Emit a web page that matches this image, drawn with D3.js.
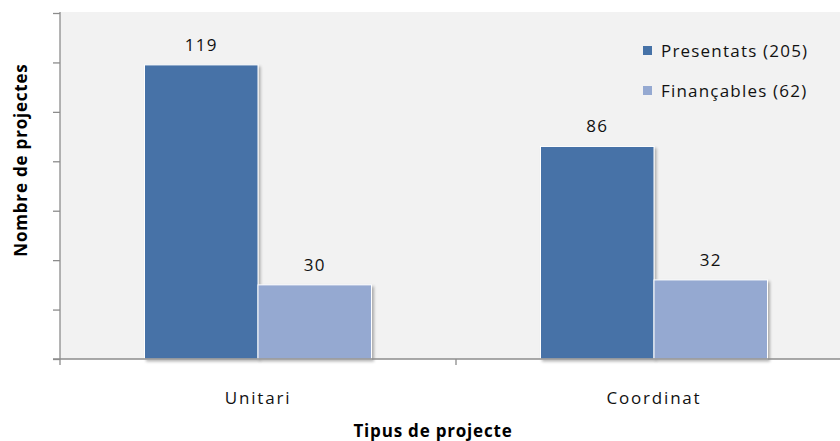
<!DOCTYPE html>
<html><head><meta charset="utf-8">
<script src="https://cdn.jsdelivr.net/npm/d3@7/dist/d3.min.js"></script>
<style>body{margin:0;background:#fff}svg{display:block;font-family:"Open Sans",sans-serif}</style>
</head><body>
<script>
const categories = ["Unitari", "Coordinat"];
const seriesNames = ["Presentats (205)", "Finançables (62)"];
const presentats = [119, 86];
const financables = [30, 32];
const yTicks = [0, 20, 40, 60, 80, 100, 120, 140];
const colors = ["#4672a7", "#95a9d1"];

const W = 840, H = 441;
const svg = d3.select("body").append("svg").attr("width", W).attr("height", H);
const mLeft = 60, mTop = 13, mBottom = 359;

svg.append("rect").attr("x", mLeft).attr("y", 12).attr("width", W - mLeft).attr("height", mBottom - 12).attr("fill", "#f2f2f2");

const x = d3.scaleBand().domain(categories).range([mLeft, 852]);
const sub = d3.scaleBand().domain([0, 1]).range([0, 227]);
const y = d3.scaleLinear().domain([0, 140]).range([mBottom, mTop]);

const defs = svg.append("defs");
const f = defs.append("filter").attr("id", "sh").attr("x", "-10%").attr("y", "-10%").attr("width", "130%").attr("height", "130%");
f.append("feGaussianBlur").attr("in", "SourceAlpha").attr("stdDeviation", 1.5);
f.append("feOffset").attr("dx", 2).attr("dy", 2).attr("result", "ob");
f.append("feComponentTransfer").append("feFuncA").attr("type", "linear").attr("slope", 0.3);
const mg = f.append("feMerge"); mg.append("feMergeNode"); mg.append("feMergeNode").attr("in", "SourceGraphic");

const series = [presentats, financables];
series.forEach((vals, si) => {
  const g = svg.append("g");
  g.selectAll("rect").data(categories).join("rect")
    .attr("x", (c) => x(c) + (x.bandwidth() - 227) / 2 + sub(si))
    .attr("width", sub.bandwidth())
    .attr("y", (c, i) => y(vals[i]))
    .attr("height", (c, i) => mBottom - y(vals[i]))
    .attr("fill", colors[si]).attr("stroke", "#fff").attr("stroke-width", 1)
    .attr("filter", "url(#sh)");
  g.selectAll("text").data(categories).join("text")
    .attr("x", (c) => x(c) + (x.bandwidth() - 227) / 2 + sub(si) + sub.bandwidth() / 2)
    .attr("y", (c, i) => y(vals[i]) - 14)
    .attr("text-anchor", "middle").attr("font-size", 17).attr("letter-spacing", 1.2).attr("fill", "#111")
    .text((c, i) => vals[i]);
});

// y axis
const ya = svg.append("g").attr("transform", `translate(${mLeft},0)`)
  .call(d3.axisLeft(y).tickValues(yTicks).tickSize(7).tickFormat(""));
ya.select(".domain").attr("stroke", "#8c8c8c").attr("stroke-width", 1.3).attr("d", `M0,${mTop - 1}V${mBottom + 6}`);
ya.selectAll(".tick line").attr("stroke", "#8c8c8c").attr("stroke-width", 1.3);

// x axis
const xa = svg.append("g").attr("transform", `translate(0,${mBottom})`)
  .call(d3.axisBottom(x).tickSize(0));
xa.select(".domain").attr("stroke", "#8c8c8c").attr("stroke-width", 1.5).attr("d", `M${mLeft - 7},0H${W}`);
xa.selectAll(".tick text").attr("y", 45).attr("dy", 0).attr("font-size", 17).attr("letter-spacing", 1.8).attr("fill", "#111").attr("font-family", "Open Sans");
xa.append("line").attr("x1", x("Coordinat")).attr("x2", x("Coordinat")).attr("y1", 0).attr("y2", 6).attr("stroke", "#8c8c8c").attr("stroke-width", 1.3);

// titles
svg.append("text").attr("x", 433).attr("y", 437).attr("text-anchor", "middle")
  .attr("font-size", 17).attr("font-weight", "bold").attr("letter-spacing", 0.8).attr("fill", "#000").text("Tipus de projecte");
svg.append("text").attr("transform", "translate(27,160) rotate(-90)").attr("text-anchor", "middle")
  .attr("font-size", 17).attr("font-weight", "bold").attr("letter-spacing", 0.8).attr("fill", "#000").text("Nombre de projectes");

// legend
const lg = svg.append("g");
seriesNames.forEach((n, i) => {
  lg.append("rect").attr("x", 643).attr("y", 46 + i * 40).attr("width", 9).attr("height", 9).attr("fill", colors[i]);
  lg.append("text").attr("x", 661).attr("y", 57 + i * 40).attr("font-size", 17).attr("letter-spacing", 1.2).attr("fill", "#111").text(n);
});
</script>
</body></html>
